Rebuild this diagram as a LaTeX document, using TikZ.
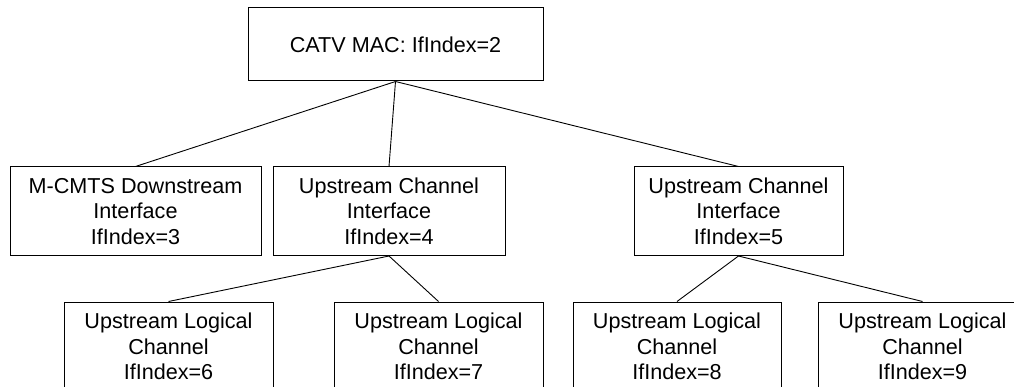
\documentclass[tikz,border=0pt]{standalone}
\usepackage{fontspec}
\setmainfont{Liberation Sans}
\begin{document}
\begin{tikzpicture}[x=1pt,y=-1pt,
  box/.style={draw=black, line width=1pt, fill=white, inner sep=0pt, align=center,
    font=\fontsize{21.6}{25.5}\selectfont, minimum height=88.5pt},
  link/.style={draw=black, line width=0.9pt}]
\useasboundingbox (0,0) rectangle (1014,387);
\clip (0,0) rectangle (1014,387);
\node[box, minimum width=295pt, minimum height=73pt] (top) at (395.5,44.5) {CATV MAC: IfIndex=2};
\node[box, minimum width=251pt] (a) at (135.5,211.25) {M-CMTS Downstream\\Interface\\IfIndex=3};
\node[box, minimum width=232pt] (b) at (389,211.25) {Upstream Channel\\Interface\\IfIndex=4};
\node[box, minimum width=209pt] (c) at (738.5,211.25) {Upstream Channel\\Interface\\IfIndex=5};
\node[box, minimum width=209pt, minimum height=89pt] (l6) at (168.5,346.5) {Upstream Logical\\Channel\\IfIndex=6};
\node[box, minimum width=209pt, minimum height=89pt] (l7) at (438.5,346.5) {Upstream Logical\\Channel\\IfIndex=7};
\node[box, minimum width=208pt, minimum height=89pt] (l8) at (677,346.5) {Upstream Logical\\Channel\\IfIndex=8};
\node[box, minimum width=209pt, minimum height=89pt] (l9) at (922.5,346.5) {Upstream Logical\\Channel\\IfIndex=9};
\draw[link] (top.south) -- (a.north);
\draw[link] (top.south) -- (b.north);
\draw[link] (top.south) -- (c.north);
\draw[link] (b.south) -- (l6.north);
\draw[link] (b.south) -- (l7.north);
\draw[link] (c.south) -- (l8.north);
\draw[link] (c.south) -- (l9.north);
\end{tikzpicture}
\end{document}
